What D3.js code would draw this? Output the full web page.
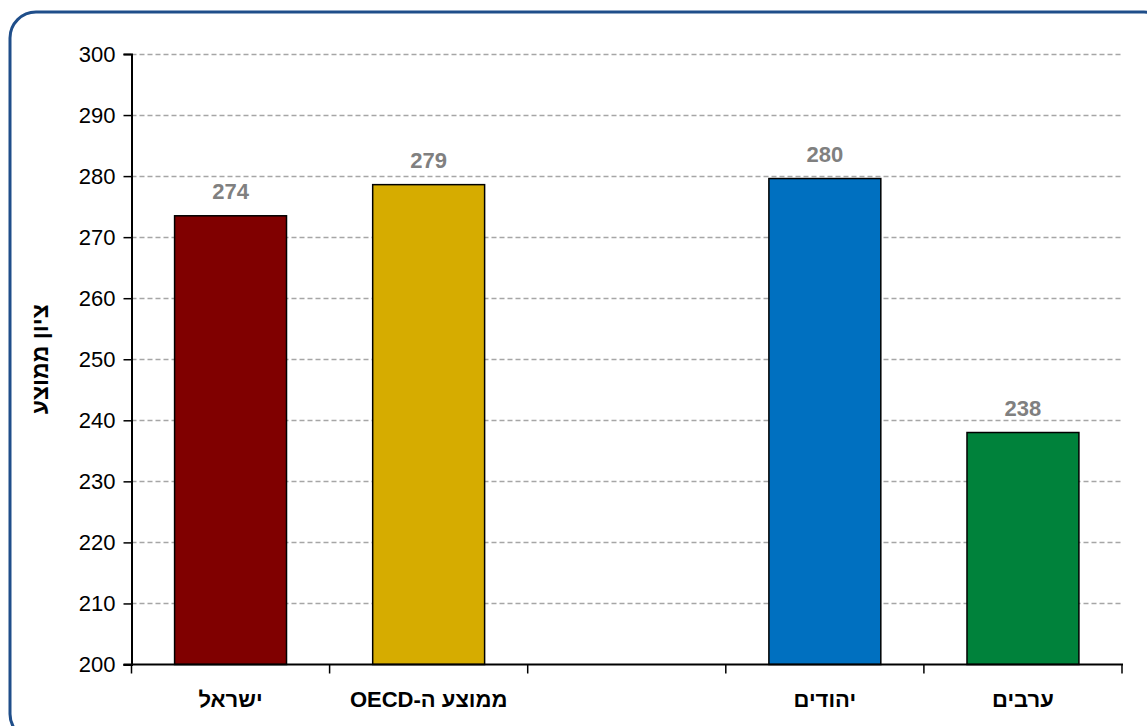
<!DOCTYPE html>
<html><head><meta charset="utf-8">
<script src="https://cdn.jsdelivr.net/npm/d3@7"></script>
<style>body{margin:0;background:#fff}svg{display:block}</style>
</head><body>
<script>
const categories = ["ישראל", "ממוצע ה-OECD", "", "יהודים", "ערבים"];
const values = [273.5, 278.6, null, 279.6, 238.0];
const valueLabels = ["274", "279", "", "280", "238"];
const colors = ["#800000", "#D6AC00", "none", "#0070C0", "#00823B"];
const yTicks = [200, 210, 220, 230, 240, 250, 260, 270, 280, 290, 300];
const yTitle = "ציון ממוצע";

const W = 1147, H = 726;
const svg = d3.select("body").append("svg").attr("width", W).attr("height", H);
svg.append("rect").attr("x", 10).attr("y", 12).attr("width", 1160).attr("height", 728)
  .attr("rx", 26).attr("fill", "#fff").attr("stroke", "#1F4E8A").attr("stroke-width", 3);

const pLeft = 131.5, pRight = 1122, pTop = 54, pBottom = 664.5;
const x = d3.scaleBand().domain(d3.range(categories.length)).range([pLeft, pRight]).paddingInner(0.435).paddingOuter(0.2175);
const y = d3.scaleLinear().domain([200, 300]).range([pBottom, pTop]);
const font = "'Liberation Sans', Arial, sans-serif";

// gridlines
svg.append("g").selectAll("line").data(yTicks.filter(d => d > 200)).join("line")
  .attr("x1", pLeft).attr("x2", pRight).attr("y1", d => Math.round(y(d)) + 0.5).attr("y2", d => Math.round(y(d)) + 0.5)
  .attr("stroke", "#A6A6A6").attr("stroke-width", 1.3).attr("stroke-dasharray", "5,3");

// bars
const idx = d3.range(categories.length).filter(i => values[i] != null);
svg.append("g").selectAll("rect").data(idx).join("rect")
  .attr("x", i => x(i)).attr("width", x.bandwidth())
  .attr("y", i => y(values[i])).attr("height", i => y(200) - y(values[i]))
  .attr("fill", i => colors[i]).attr("stroke", "#000").attr("stroke-width", 1.5);

// value labels
svg.append("g").selectAll("text").data(idx).join("text")
  .attr("x", i => x(i) + x.bandwidth() / 2).attr("y", i => y(values[i]) - 17)
  .attr("text-anchor", "middle").attr("font-family", font).attr("font-weight", "bold")
  .attr("font-size", 22).attr("fill", "#808080").text(i => valueLabels[i]);

// y axis
const yAxis = d3.axisLeft(y).tickValues(yTicks).tickSize(8).tickPadding(8).tickFormat(d3.format("d"));
const gy = svg.append("g").attr("transform", `translate(${pLeft},0)`).call(yAxis);
gy.select(".domain").attr("stroke", "#000").attr("stroke-width", 2);
gy.selectAll(".tick line").attr("stroke", "#000").attr("stroke-width", 1.5);
gy.selectAll(".tick text").attr("font-family", font).attr("font-size", 22).attr("fill", "#000");

// x axis
const xAxisG = svg.append("g").attr("transform", `translate(0,${pBottom})`);
xAxisG.append("line").attr("x1", pLeft - 8).attr("x2", pRight + 1).attr("y1", 0).attr("y2", 0).attr("stroke", "#000").attr("stroke-width", 2);
const step = x.step();
const bounds = d3.range(categories.length + 1).map(i => i === 0 ? pLeft : (i === categories.length ? pRight : x(i) - x.paddingInner() * step / 2));
xAxisG.selectAll("line.tk").data(bounds).join("line").attr("class", "tk")
  .attr("x1", d => d).attr("x2", d => d).attr("y1", 0).attr("y2", 9).attr("stroke", "#000").attr("stroke-width", 1.5);
xAxisG.selectAll("text").data(d3.range(categories.length)).join("text")
  .attr("x", i => x(i) + x.bandwidth() / 2).attr("y", 42)
  .attr("text-anchor", "middle").attr("direction", "rtl").attr("font-family", font).attr("font-weight", "bold")
  .attr("font-size", 22).attr("fill", "#000").text(i => categories[i]);

// y title
svg.append("text").attr("transform", `translate(48,${(pTop + pBottom) / 2}) rotate(-90)`)
  .attr("text-anchor", "middle").attr("direction", "rtl").attr("font-family", font).attr("font-weight", "bold")
  .attr("font-size", 23).attr("fill", "#000").text(yTitle);
</script>
</body></html>
